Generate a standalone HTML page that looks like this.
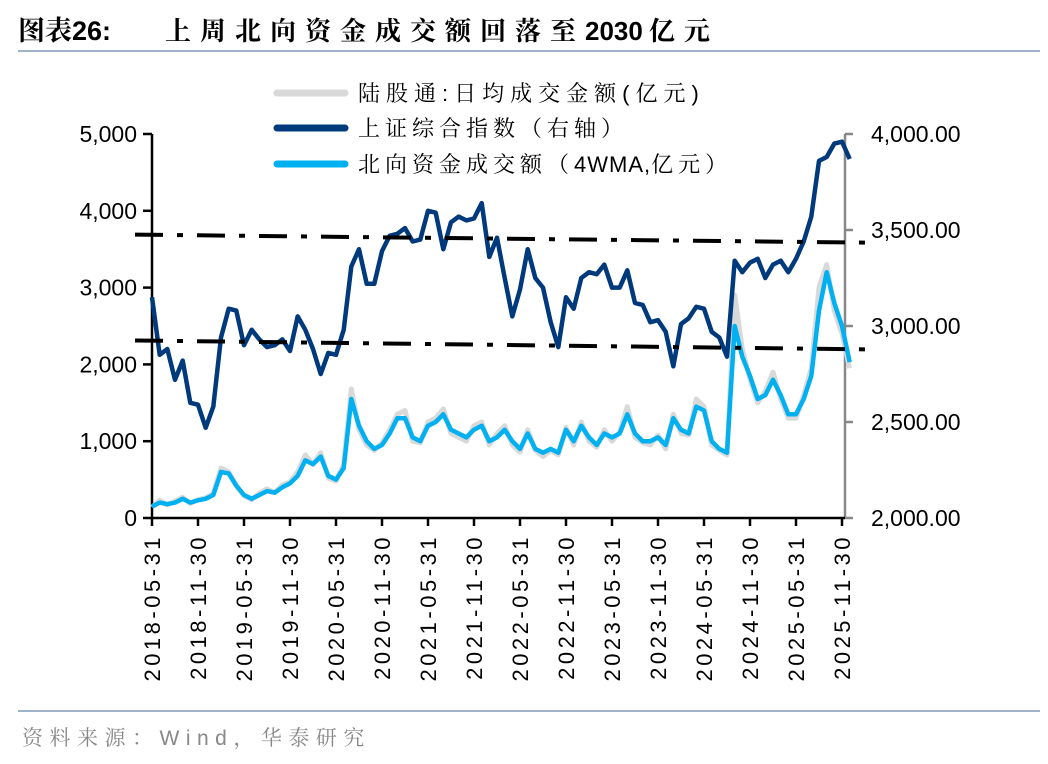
<!DOCTYPE html>
<html><head><meta charset="utf-8">
<style>
body{margin:0;background:#fff;width:1048px;height:764px;overflow:hidden;font-family:"Liberation Sans","Noto Serif CJK SC",serif;}
svg{position:absolute;left:0;top:0}
.cj{font-family:"Liberation Sans","Noto Serif CJK SC",serif;}
</style></head>
<body>
<svg id="chart" width="1048" height="764">
<text x="18" y="40" font-size="27" font-weight="bold" class="cj">图表26:</text>
<text x="165" y="40" font-size="26" font-weight="bold" class="cj"><tspan letter-spacing="9">上周北向资金成交额回落至</tspan><tspan letter-spacing="0">2030</tspan><tspan dx="6" letter-spacing="9">亿元</tspan></text>
<line x1="18" y1="51" x2="1040" y2="51" stroke="#9fb3c8" stroke-width="2"/>
<line x1="18" y1="711" x2="1040" y2="711" stroke="#9fb3c8" stroke-width="2"/>
<text x="22" y="745" font-size="21" fill="#888" class="cj" letter-spacing="6.5">资料来源：Wind，华泰研究</text>
<g id="legend" class="cj">
 <line x1="277" y1="93" x2="345" y2="93" stroke="#d9d9d9" stroke-width="7" stroke-linecap="round"/>
 <text x="358" y="101" font-size="22" letter-spacing="6">陆股通:日均成交金额(亿元)</text>
 <line x1="277" y1="128" x2="345" y2="128" stroke="#003a7d" stroke-width="7" stroke-linecap="round"/>
 <text x="358" y="136" font-size="22" letter-spacing="5">上证综合指数（右轴）</text>
 <line x1="277" y1="164" x2="345" y2="164" stroke="#00b0f0" stroke-width="7" stroke-linecap="round"/>
 <text x="358" y="172" font-size="22" letter-spacing="5"><tspan>北向资金成交额（</tspan><tspan letter-spacing="1">4WMA,</tspan><tspan>亿元）</tspan></text>
</g>
<g id="axes"></g>
<g id="marks"></g>
</svg>
<script>
const leftTicks=[0,1000,2000,3000,4000,5000];
const leftTickLabels=["0","1,000","2,000","3,000","4,000","5,000"];
const rightTicks=[2000,2500,3000,3500,4000];
const rightTickLabels=["2,000.00","2,500.00","3,000.00","3,500.00","4,000.00"];
const xTickLabels=["2018-05-31","2018-11-30","2019-05-31","2019-11-30","2020-05-31","2020-11-30","2021-05-31","2021-11-30","2022-05-31","2022-11-30","2023-05-31","2023-11-30","2024-05-31","2024-11-30","2025-05-31","2025-11-30"];
// monthly values from 2018-05 onward
const sseIndex=[3150,2850,2880,2720,2820,2600,2590,2470,2580,2940,3090,3080,2900,2980,2930,2890,2900,2930,2870,3050,2980,2880,2750,2860,2850,2980,3310,3400,3220,3220,3390,3470,3480,3510,3440,3450,3600,3590,3400,3540,3570,3550,3560,3640,3360,3460,3250,3050,3190,3400,3250,3200,3020,2890,3150,3090,3250,3280,3270,3320,3200,3200,3290,3120,3110,3020,3030,2970,2790,3010,3040,3100,3090,2970,2940,2840,3340,3280,3330,3350,3250,3320,3340,3280,3350,3440,3570,3860,3880,3950,3960,3870];
const nbWeeklyAmt=[140,230,170,220,270,190,240,260,320,650,600,420,290,240,320,380,330,430,470,600,820,700,850,520,480,700,1680,1150,950,880,980,1150,1350,1400,1000,980,1250,1300,1420,1100,1050,1000,1200,1250,950,1100,1200,950,860,1150,880,800,880,820,1180,950,1250,1000,920,1150,1000,1120,1450,1050,980,950,1080,900,1350,1100,1080,1550,1450,950,880,820,2900,2200,1800,1500,1650,1900,1550,1300,1300,1600,1950,3000,3300,2700,2400,1950];
const nb4wma=[150,200,180,200,250,200,230,250,300,600,580,420,300,250,300,350,330,400,450,550,750,700,800,550,500,650,1550,1200,1000,900,950,1100,1300,1300,1050,1000,1200,1250,1350,1150,1100,1050,1150,1200,1000,1050,1150,1000,900,1100,900,850,900,850,1150,1000,1200,1050,950,1100,1050,1100,1350,1100,1000,1000,1050,950,1300,1150,1100,1450,1400,1000,900,850,2500,2100,1850,1550,1600,1800,1600,1350,1350,1550,1850,2700,3200,2800,2500,2030];
const trendUpper=[3690,3585];
const trendLower=[2312,2195];

const NS="http://www.w3.org/2000/svg";
const X0=152,XW=46,Y0=518,YTOP=134;
const yL=v=>Y0-(v/5000)*(Y0-YTOP);
const yR=v=>Y0-((v-2000)/2000)*(Y0-YTOP);
const xM=i=>X0+i*(XW/6);
const axes=document.getElementById('axes'),marks=document.getElementById('marks');
function mk(tag,attrs,parent){const e=document.createElementNS(NS,tag);for(const k in attrs)e.setAttribute(k,attrs[k]);parent.appendChild(e);return e;}
let e;
e=mk('line',{x1:X0,y1:YTOP,x2:X0,y2:Y0,stroke:'#000','stroke-width':2.5},axes);


e=mk('line',{x1:845,y1:YTOP,x2:845,y2:Y0,stroke:'#888','stroke-width':2.5},axes);


e=mk('line',{x1:X0,y1:Y0,x2:845,y2:Y0,stroke:'#000','stroke-width':2.5},axes);


leftTicks.forEach((v,i)=>{
 e=mk('line',{x1:143,y1:yL(v),x2:X0,y2:yL(v),stroke:'#000','stroke-width':2.5},axes);
 
 
 e=mk('text',{x:137,y:yL(v)+8,'font-size':23,'text-anchor':'end'},axes);e.textContent=leftTickLabels[i];
 
 
});
rightTicks.forEach((v,i)=>{
 e=mk('line',{x1:845,y1:yR(v),x2:853,y2:yR(v),stroke:'#888','stroke-width':2.5},axes);
 
 
 e=mk('text',{x:871,y:yR(v)+8,'font-size':23},axes);e.textContent=rightTickLabels[i];
 
 
});
xTickLabels.forEach((t,i)=>{
 const x=X0+i*XW;
 e=mk('line',{x1:x,y1:Y0,x2:x,y2:Y0+8,stroke:'#000','stroke-width':2.5},axes);
 
 
 e=mk('text',{x:0,y:0,'font-size':22,'letter-spacing':3.5,'text-anchor':'end',transform:`translate(${x+8},${Y0+16}) rotate(-90)`},axes);e.textContent=t;
 
 
});
function path(arr,fy){return arr.map((v,i)=>(i?'L':'M')+xM(i).toFixed(1)+','+fy(v).toFixed(1)).join('');}
e=mk('path',{d:path(nbWeeklyAmt,yL),fill:'none',stroke:'#d9d9d9','stroke-width':5,'stroke-linejoin':'round'},marks);


e=mk('path',{d:path(sseIndex,yR),fill:'none',stroke:'#003a7d','stroke-width':4.5,'stroke-linejoin':'round'},marks);


e=mk('path',{d:path(nb4wma,yL),fill:'none',stroke:'#00b0f0','stroke-width':4.5,'stroke-linejoin':'round'},marks);


[[trendUpper,'upper-trend-line'],[trendLower,'lower-trend-line']].forEach(([t,n])=>{
 e=mk('line',{x1:135,y1:yL(t[0]),x2:872,y2:yL(t[1]),stroke:'#000','stroke-width':4,'stroke-dasharray':'28,14,6,14'},marks);
 
 
});
</script>
</body></html>
